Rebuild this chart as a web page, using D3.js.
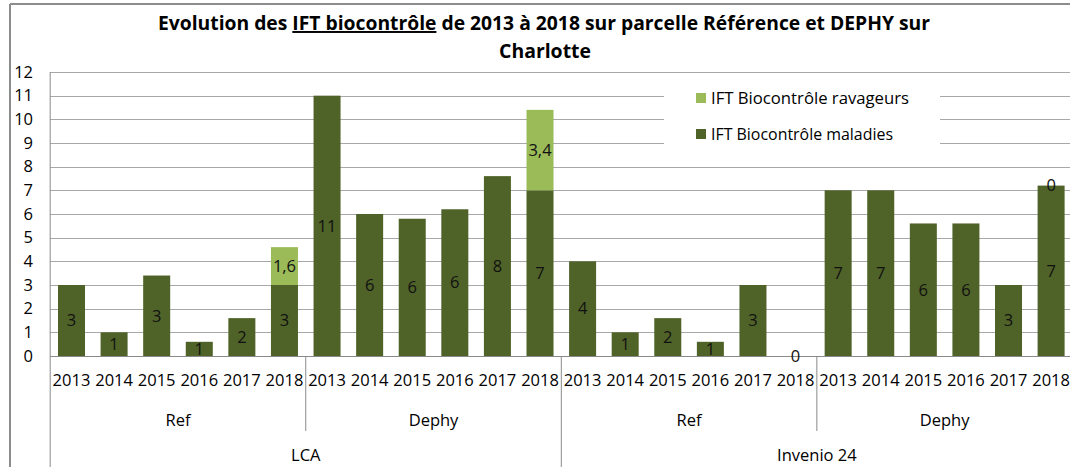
<!DOCTYPE html>
<html>
<head>
<meta charset="utf-8">
<script src="https://cdn.jsdelivr.net/npm/d3@7"></script>
<style>
  html, body { margin: 0; padding: 0; background: #fff; }
  svg { display: block; font-family: "Open Sans", sans-serif; }
</style>
</head>
<body>
<svg id="chart" width="1070" height="467"></svg>
<script>
// ---- data ----
const years = ["2013", "2014", "2015", "2016", "2017", "2018"];
const subGroups = ["Ref", "Dephy", "Ref", "Dephy"];
const topGroups = ["LCA", "Invenio 24"];
const maladies = [3, 1, 3.4, 0.6, 1.6, 3,  11, 6, 5.8, 6.2, 7.6, 7,  4, 1, 1.6, 0.6, 3, 0,  7, 7, 5.6, 5.6, 3, 7.2];
const ravageurs = [null, null, null, null, null, 1.6,  null, null, null, null, null, 3.4,  null, null, null, null, null, null,  null, null, null, null, null, 0];
const yTicks = [0, 1, 2, 3, 4, 5, 6, 7, 8, 9, 10, 11, 12];
const seriesNames = ["IFT Biocontrôle ravageurs", "IFT Biocontrôle maladies"];
const titleLine1 = ["Evolution des ", "IFT biocontrôle", " de 2013 à 2018 sur parcelle Référence et DEPHY sur"];
const titleLine2 = "Charlotte";

// ---- build categories ----
const cats = [];
subGroups.forEach((sg, gi) => years.forEach((y, yi) => cats.push({ idx: gi * 6 + yi, year: y, sub: sg, top: topGroups[Math.floor(gi / 2)] })));

const colDark = "#4F6228", colLight = "#9BBB59";
const gridCol = "#a8a8a8", axisCol = "#8a8a8a";

const svg = d3.select("#chart");
const plotL = 50.2, plotR = 1072.4, plotT = 72, plotB = 356;

const x = d3.scaleBand().domain(cats.map(c => c.idx)).range([plotL, plotR]).paddingInner(0.366).paddingOuter(0.183);
const y = d3.scaleLinear().domain([0, 12]).range([plotB, plotT]);
const step = x.step();

// outer frame
svg.append("line").attr("x1", 10).attr("x2", 1070).attr("y1", 4).attr("y2", 4).attr("stroke", "#8c8c8c").attr("stroke-width", 2);
svg.append("line").attr("x1", 10).attr("x2", 10).attr("y1", 4).attr("y2", 467).attr("stroke", "#8c8c8c").attr("stroke-width", 2);

// title
const t1 = svg.append("text").attr("x", 544).attr("y", 30).attr("text-anchor", "middle")
  .attr("font-weight", "bold").attr("font-size", 19.5).attr("fill", "#000")
  .attr("textLength", 772).attr("lengthAdjust", "spacingAndGlyphs");
titleLine1.forEach((s, i) => {
  const ts = t1.append("tspan").text(s);
  if (i === 1) ts.attr("text-decoration", "underline");
});
svg.append("text").attr("x", 545).attr("y", 58).attr("text-anchor", "middle")
  .attr("font-weight", "bold").attr("font-size", 19.5).attr("fill", "#000")
  .attr("textLength", 92).attr("lengthAdjust", "spacingAndGlyphs").text(titleLine2);

// gridlines
svg.append("g").selectAll("line").data(yTicks.filter(d => d > 0)).join("line")
  .attr("x1", plotL).attr("x2", plotR)
  .attr("y1", d => Math.round(y(d)) + 0.5).attr("y2", d => Math.round(y(d)) + 0.5)
  .attr("stroke", gridCol).attr("stroke-width", 1);

// y axis
const yAxis = d3.axisLeft(y).tickValues(yTicks).tickSize(0).tickPadding(0);
const yg = svg.append("g").attr("transform", `translate(33,0)`).call(yAxis);
yg.select(".domain").remove();
yg.selectAll("text").attr("font-size", 16.5).attr("fill", "#000").attr("font-family", "Open Sans, sans-serif");

// bars - maladies
svg.append("g").selectAll("rect").data(cats).join("rect")
  .attr("x", d => x(d.idx)).attr("width", x.bandwidth())
  .attr("y", d => y(maladies[d.idx])).attr("height", d => y(0) - y(maladies[d.idx]))
  .attr("fill", colDark);
// bars - ravageurs
svg.append("g").selectAll("rect").data(cats.filter(d => ravageurs[d.idx])).join("rect")
  .attr("x", d => x(d.idx)).attr("width", x.bandwidth())
  .attr("y", d => y(maladies[d.idx] + ravageurs[d.idx]))
  .attr("height", d => y(maladies[d.idx]) - y(maladies[d.idx] + ravageurs[d.idx]))
  .attr("fill", colLight);

// legend box (covers gridlines)
svg.append("rect").attr("x", 664).attr("y", 84).attr("width", 276).attr("height", 66).attr("fill", "#fff");
seriesNames.forEach((n, i) => {
  const yy = 98 + i * 36;
  svg.append("rect").attr("x", 696).attr("y", yy - 5).attr("width", 10).attr("height", 10).attr("fill", i === 0 ? colLight : colDark);
  svg.append("text").attr("x", 711).attr("y", yy).attr("dy", "0.35em").attr("font-size", 16).attr("fill", "#000")
    .attr("textLength", i === 0 ? 198 : 182).attr("lengthAdjust", "spacingAndGlyphs").text(n);
});

// axis lines
svg.append("line").attr("x1", plotL).attr("x2", plotR).attr("y1", plotB + 0.5).attr("y2", plotB + 0.5).attr("stroke", axisCol);
svg.append("line").attr("x1", plotL).attr("x2", plotL).attr("y1", plotT).attr("y2", 467).attr("stroke", axisCol);

// x axis labels: years
const xAxis = d3.axisBottom(x).tickFormat(i => cats[i].year).tickSize(0).tickPadding(0);
const xg = svg.append("g").attr("transform", `translate(0,${plotB})`).call(xAxis);
xg.select(".domain").remove();
xg.selectAll("text").attr("font-size", 16.5).attr("fill", "#000").attr("font-family", "Open Sans, sans-serif")
  .attr("dy", null).attr("y", 26).attr("dominant-baseline", "middle");

// sub group separators and labels
subGroups.forEach((sg, gi) => {
  const xs = plotL + gi * 6 * step;
  if (gi > 0) {
    svg.append("line").attr("x1", xs).attr("x2", xs).attr("y1", plotB).attr("y2", gi === 2 ? 467 : 431).attr("stroke", axisCol);
  }
  svg.append("text").attr("x", xs + 3 * step).attr("y", 420).attr("dy", "0.35em").attr("text-anchor", "middle")
    .attr("font-size", 16.5).attr("fill", "#000").text(sg);
});
topGroups.forEach((tg, ti) => {
  const xs = plotL + ti * 12 * step;
  svg.append("text").attr("x", xs + 6 * step).attr("y", 455).attr("dy", "0.35em").attr("text-anchor", "middle")
    .attr("font-size", 16.5).attr("fill", "#000").text(tg);
});

// data labels
const fmtComma = v => String(v).replace(".", ",");
svg.append("g").selectAll("text").data(cats).join("text")
  .attr("x", d => x(d.idx) + x.bandwidth() / 2)
  .attr("y", d => (y(0) + y(maladies[d.idx])) / 2).attr("dy", "0.35em")
  .attr("text-anchor", "middle").attr("font-size", 16.5).attr("fill", "#111")
  .text(d => Math.round(maladies[d.idx]));
svg.append("g").selectAll("text").data(cats.filter(d => ravageurs[d.idx] !== null)).join("text")
  .attr("x", d => x(d.idx) + x.bandwidth() / 2)
  .attr("y", d => (y(maladies[d.idx]) + y(maladies[d.idx] + ravageurs[d.idx])) / 2).attr("dy", "0.35em")
  .attr("text-anchor", "middle").attr("font-size", 16.5).attr("fill", "#111")
  .text(d => fmtComma(ravageurs[d.idx]));
</script>
</body>
</html>
